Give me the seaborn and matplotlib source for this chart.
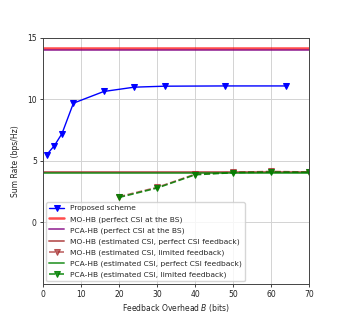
import matplotlib
matplotlib.use("Agg")
import matplotlib.pyplot as plt
import seaborn as sns
import pandas as pd

sns.set_style("ticks")
plt.rcParams['font.family'] = ['DejaVu Sans']

prop_x = [1, 3, 5, 8, 16, 24, 32, 48, 64]
prop_y = [5.52, 6.25, 7.23, 9.7, 10.65, 11.0, 11.08, 11.1, 11.1]

mo_perfect = 14.16
pca_perfect = 14.05
mo_est_perfect = 4.12
pca_est_perfect = 4.02

lf_x = [20, 30, 40, 50, 60, 70]
mo_lf_y = [2.1, 2.85, 3.92, 4.08, 4.15, 4.1]
pca_lf_y = [2.04, 2.8, 3.88, 4.05, 4.1, 4.08]

xlim = (0, 70)
xticks = [0, 10, 20, 30, 40, 50, 60, 70]
ylim = (-5, 15)
yticks = [0, 5, 10, 15]

fig = plt.figure(figsize=(3.43, 3.19), dpi=100)
ax = fig.add_axes([0.1254, 0.1097, 0.7755, 0.7713])

ms = 4
sns.lineplot(x=prop_x, y=prop_y, ax=ax, color='blue', marker='v', markersize=ms,
             linewidth=1.0, label='Proposed scheme', markeredgecolor='blue')
ax.axhline(mo_perfect, color='red', alpha=0.7, linewidth=1.8, label='MO-HB (perfect CSI at the BS)')
ax.axhline(pca_perfect, color='purple', alpha=0.7, linewidth=1.4, label='PCA-HB (perfect CSI at the BS)')
ax.axhline(mo_est_perfect, color='brown', alpha=0.7, linewidth=1.4, label='MO-HB (estimated CSI, perfect CSI feedback)')
sns.lineplot(x=lf_x, y=mo_lf_y, ax=ax, color='brown', alpha=0.7, marker='v', markersize=ms,
             linestyle='--', linewidth=1.2, markeredgecolor='brown',
             label='MO-HB (estimated CSI, limited feedback)')
ax.axhline(pca_est_perfect, color='green', alpha=0.7, linewidth=1.4, label='PCA-HB (estimated CSI, perfect CSI feedback)')
sns.lineplot(x=lf_x, y=pca_lf_y, ax=ax, color='green', alpha=0.85, marker='v', markersize=ms,
             linestyle='--', linewidth=1.2, markeredgecolor='green',
             label='PCA-HB (estimated CSI, limited feedback)')

ax.set_xlim(*xlim)
ax.set_ylim(*ylim)
ax.set_xticks(xticks)
ax.set_yticks(yticks)
ax.grid(True, color='#d3d3d3', linewidth=0.7)
ax.tick_params(labelsize=5.5, length=2.5, width=0.6, colors='#222222', pad=2)
for s in ax.spines.values():
    s.set_color('#444444')
    s.set_linewidth(0.7)
ax.set_xlabel('Feedback Overhead $B$ (bits)', fontsize=5.5, labelpad=2)
ax.set_ylabel('Sum Rate (bps/Hz)', fontsize=5.5, labelpad=5)
ax.legend(loc='lower left', fontsize=5.4, frameon=True, framealpha=0.8,
          handlelength=2.0, borderaxespad=0.4, labelspacing=0.58)

fig.savefig('out.png', dpi=100)
